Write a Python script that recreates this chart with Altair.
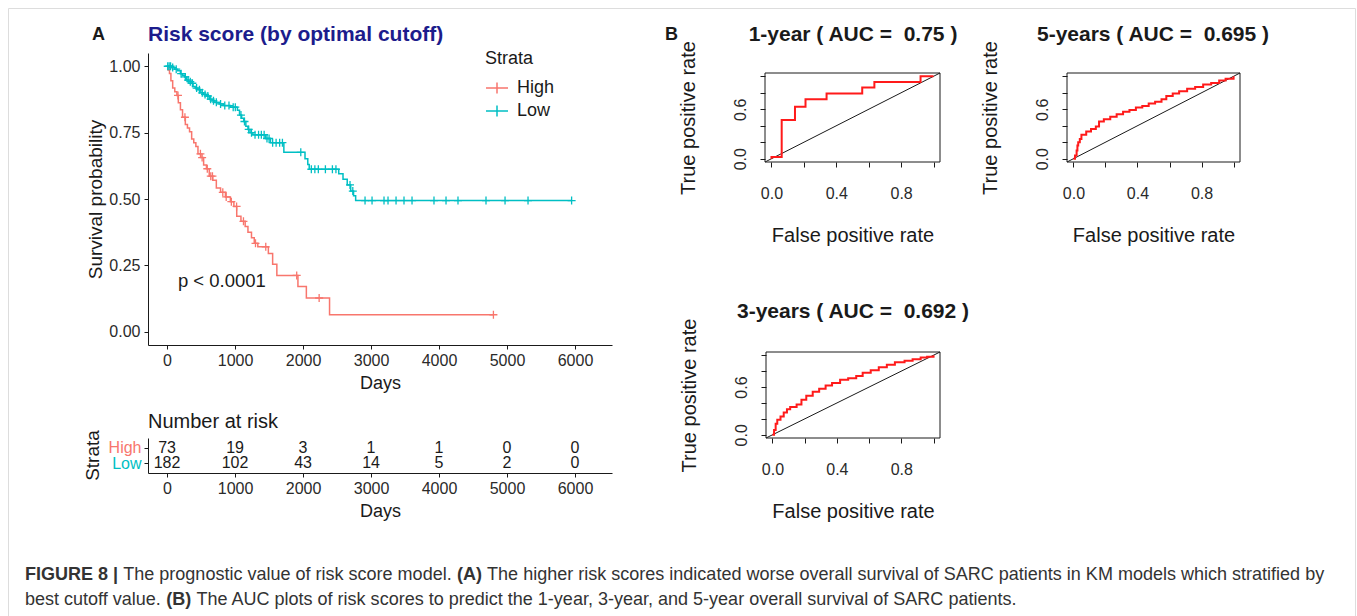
import altair as alt
import pandas as pd

FONT = "Liberation Sans"
RED = "#F8766D"
TEAL = "#00BFC4"
INK = "#1a1a1a"
H = 620  # plot-area height of the single layered canvas

# ---------------- Kaplan-Meier data (days, survival probability) ----------------
high_time = [0, 16, 36, 57, 83, 114, 145, 166, 197, 228, 269, 300, 331, 362, 393, 424, 455, 497, 538, 580,
             621, 673, 725, 787, 859, 932, 983, 1025, 1087, 1149, 1190, 1242, 1283, 1335, 1490, 1553, 1615,
             1925, 2049, 2390, 4800]
high_surv = [1.0, 0.986, 0.973, 0.945, 0.918, 0.904, 0.890, 0.863, 0.836, 0.808, 0.781, 0.767, 0.753, 0.726,
             0.712, 0.698, 0.670, 0.656, 0.628, 0.614, 0.586, 0.571, 0.541, 0.525, 0.508, 0.490, 0.472, 0.435,
             0.416, 0.396, 0.375, 0.354, 0.333, 0.320, 0.295, 0.254, 0.212, 0.170, 0.127, 0.064, 0.064]
high_censor = [161, 263, 491, 516, 592, 643, 668, 820, 870, 946, 1023, 1124, 1301, 1452, 1907, 2237, 4800]

low_time = [0, 62, 114, 155, 197, 228, 259, 290, 321, 352, 383, 414, 455, 497, 538, 580, 621, 662, 704, 766,
            828, 932, 1035, 1066, 1097, 1128, 1159, 1190, 1221, 1263, 1449, 1521, 1718, 2029, 2070, 2091,
            2525, 2588, 2650, 2701, 2743, 2774, 5950]
low_surv = [1.0, 0.995, 0.989, 0.983, 0.972, 0.966, 0.960, 0.948, 0.942, 0.936, 0.924, 0.918, 0.912, 0.900,
            0.894, 0.888, 0.876, 0.870, 0.864, 0.858, 0.852, 0.846, 0.834, 0.816, 0.804, 0.792, 0.774, 0.762,
            0.750, 0.742, 0.728, 0.712, 0.676, 0.652, 0.630, 0.612, 0.595, 0.574, 0.553, 0.530, 0.512, 0.494,
            0.494]
low_censor = [10, 31, 52, 83, 135, 207, 269, 311, 342, 373, 435, 476, 518, 559, 600, 642, 683, 725, 787, 849,
              911, 973, 1004, 1087, 1139, 1201, 1242, 1294, 1346, 1387, 1428, 1470, 1501, 1553, 1604, 1656,
              1697, 1967, 2122, 2174, 2225, 2329, 2432, 2484, 2691, 2732, 2912, 3015, 3191, 3250, 3368, 3485,
              3603, 3926, 4103, 4279, 4691, 4971, 5309, 5950]

# ---------------- Number at risk ----------------
risk_days = [0, 1000, 2000, 3000, 4000, 5000, 6000]
risk_high = [73, 19, 3, 1, 1, 0, 0]
risk_low = [182, 102, 43, 14, 5, 2, 0]

# ---------------- ROC curves (false positive rate, true positive rate) ----------------
roc1_fpr = [0, 0, 0.063, 0.145, 0.21, 0.34, 0.56, 0.635, 0.92, 1.0]
roc1_tpr = [0, 0.02, 0.47, 0.63, 0.72, 0.79, 0.865, 0.93, 1.0, 1.0]

roc5_fpr = [0, 0.01, 0.02, 0.025, 0.03, 0.04, 0.05, 0.08, 0.11, 0.14, 0.16, 0.19, 0.23, 0.27, 0.31, 0.35,
            0.39, 0.43, 0.47, 0.51, 0.55, 0.58, 0.62, 0.66, 0.71, 0.76, 0.81, 0.86, 0.91, 0.95, 1.0]
roc5_tpr = [0, 0.04, 0.10, 0.16, 0.20, 0.24, 0.29, 0.33, 0.36, 0.39, 0.45, 0.48, 0.51, 0.54, 0.57, 0.59,
            0.62, 0.64, 0.67, 0.69, 0.72, 0.76, 0.79, 0.82, 0.85, 0.87, 0.90, 0.92, 0.95, 0.97, 1.0]

roc3_fpr = [0, 0.01, 0.02, 0.03, 0.05, 0.07, 0.09, 0.11, 0.15, 0.18, 0.21, 0.25, 0.29, 0.33, 0.37, 0.42,
            0.47, 0.52, 0.56, 0.61, 0.66, 0.71, 0.76, 0.82, 0.87, 0.92, 0.96, 1.0]
roc3_tpr = [0, 0.06, 0.14, 0.19, 0.23, 0.28, 0.32, 0.35, 0.38, 0.44, 0.49, 0.54, 0.58, 0.62, 0.65, 0.69,
            0.71, 0.74, 0.78, 0.81, 0.85, 0.88, 0.91, 0.93, 0.95, 0.97, 0.98, 1.0]

roc_titles = ["1-year ( AUC =\u00a0 0.75 )", "5-years ( AUC =\u00a0 0.695 )", "3-years ( AUC =\u00a0 0.692 )"]

caption_line1 = [("FIGURE 8 |", True), (" The prognostic value of risk score model. ", False), ("(A)", True),
                 (" The higher risk scores indicated worse overall survival of SARC patients in KM models which stratified by", False)]
caption_line2 = [("best cutoff value. ", False), ("(B)", True),
                 (" The AUC plots of risk scores to predict the 1-year, 3-year, and 5-year overall survival of SARC patients.", False)]

# ======================= build =======================
def step_value(times, survs, t):
    s = survs[0]
    for ti, si in zip(times, survs):
        if ti <= t:
            s = si
    return s

km_df = pd.concat([
    pd.DataFrame({"time": high_time, "surv": high_surv, "strata": "High"}),
    pd.DataFrame({"time": low_time, "surv": low_surv, "strata": "Low"}),
])
cens_df = pd.concat([
    pd.DataFrame({"time": high_censor, "surv": [step_value(high_time, high_surv, t) for t in high_censor], "strata": "High"}),
    pd.DataFrame({"time": low_censor, "surv": [step_value(low_time, low_surv, t) for t in low_censor], "strata": "Low"}),
])

T_DOMAIN = [-280, 6544]
T_RANGE = [140, 604]

common_axis = dict(grid=False, labelFlush=False, labelOverlap=False, labelFont=FONT, titleFont=FONT,
                   titleFontWeight="normal", titleColor=INK, labelColor="#2a2a2a", tickColor=INK,
                   domainColor=INK, tickWidth=1, domainWidth=1)


def km_x(offset, title_y):
    return alt.X("time:Q", scale=alt.Scale(domain=T_DOMAIN, range=T_RANGE, nice=False, zero=False),
                 axis=alt.Axis(orient="bottom", offset=offset, values=risk_days, format="d",
                               title="Days", titleX=(T_RANGE[0] + T_RANGE[1]) / 2, titleY=title_y,
                               titleBaseline="middle", titleAlign="center", titleFontSize=18,
                               labelFontSize=16, tickSize=4, labelPadding=3, **common_axis))


km_y = alt.Y("surv:Q", scale=alt.Scale(domain=[-0.05, 1.05], range=[337, 45], nice=False, zero=False),
             axis=alt.Axis(orient="left", offset=-140, values=[0, 0.25, 0.5, 0.75, 1.0], format=".2f",
                           title="Survival probability", titleX=-53, titleY=191, titleAngle=270,
                           titleBaseline="middle", titleAlign="center", titleFontSize=19,
                           labelFontSize=16, tickSize=4, labelPadding=4, **common_axis))

color = alt.Color("strata:N", scale=alt.Scale(domain=["High", "Low"], range=[RED, TEAL]),
                  legend=alt.Legend(orient="none", legendX=477, legendY=42, title="Strata", padding=0,
                                    titleFont=FONT, labelFont=FONT, titleFontSize=18, labelFontSize=18,
                                    titleFontWeight="normal", titleColor=INK, labelColor=INK,
                                    titlePadding=8, rowPadding=2, labelOffset=8,
                                    symbolType="M-1,0H1M0,-0.5V0.5", symbolSize=484,
                                    symbolStrokeWidth=1.5, symbolFillColor="transparent"))

km_lines = alt.Chart(km_df).mark_line(interpolate="step-after", strokeWidth=1.5).encode(
    x=km_x(337 - H, 38), y=km_y, color=color, detail="strata:N")
km_points = alt.Chart(cens_df).mark_point(shape="M-1,0H1M0,-1V1", size=64, strokeWidth=1.3,
                                           filled=False, opacity=1).encode(
    x=km_x(337 - H, 38), y=km_y, color=color)
pval = alt.Chart(pd.DataFrame({"time": [160], "surv": [0.19], "t": ["p < 0.0001"]})).mark_text(
    align="left", baseline="middle", fontSize=18.5, font=FONT, color=INK).encode(
    x=km_x(337 - H, 38), y=km_y, text="t:N")
km = alt.layer(km_lines, km_points, pval)

# risk table
risk_df = pd.concat([
    pd.DataFrame({"time": risk_days, "strata": "High", "n": risk_high}),
    pd.DataFrame({"time": risk_days, "strata": "Low", "n": risk_low}),
])
risk_y = alt.Y("strata:N", scale=alt.Scale(type="point", domain=["High", "Low"], range=[430, 465], padding=0.6),
               axis=alt.Axis(orient="left", offset=-140, title="Strata", titleX=-56, titleY=447,
                             titleAngle=270, titleBaseline="middle", titleAlign="center", titleFontSize=19,
                             labelFontSize=16, tickSize=4, labelPadding=3,
                             grid=False, labelFont=FONT, titleFont=FONT, titleFontWeight="normal",
                             titleColor=INK, tickColor=INK, domainColor=INK,
                             labelColor={"condition": {"test": "datum.value === 'High'", "value": RED},
                                         "value": TEAL}))
risk = alt.Chart(risk_df).mark_text(fontSize=16, font=FONT, color=INK, baseline="middle").encode(
    x=km_x(465 - H, 38), y=risk_y, text="n:Q")


# ROC panels
def roc_panel(fpr, tpr, box_x, box_y):
    # box_x = [left, right], box_y = [bottom, top] in canvas pixels
    xscale = alt.Scale(domain=[-0.04, 1.04], range=box_x, nice=False, zero=False)
    yscale = alt.Scale(domain=[-0.04, 1.04], range=box_y, nice=False, zero=False)
    X = alt.X("fpr:Q", scale=xscale,
              axis=alt.Axis(orient="bottom", offset=box_y[0] - H, values=[0, 0.2, 0.4, 0.6, 0.8, 1.0],
                            labelExpr="(datum.value == 0 || datum.value == 0.4 || datum.value == 0.8) ? format(datum.value, '.1f') : ''",
                            domain=False, tickSize=5, labelPadding=26, labelBaseline="middle",
                            labelFontSize=16, title="False positive rate",
                            titleX=(box_x[0] + box_x[1]) / 2, titleY=73, titleBaseline="middle",
                            titleAlign="center", titleFontSize=20, **common_axis))
    Y = alt.Y("tpr:Q", scale=yscale,
              axis=alt.Axis(orient="left", offset=-box_x[0], values=[0, 0.2, 0.4, 0.6, 0.8, 1.0],
                            labelExpr="(datum.value == 0 || datum.value == 0.6) ? format(datum.value, '.1f') : ''",
                            domain=False, tickSize=5, labelPadding=20, labelAngle=270, labelAlign="center",
                            labelBaseline="middle", labelFontSize=16, title="True positive rate",
                            titleX=-77, titleY=(box_y[0] + box_y[1]) / 2, titleAngle=270,
                            titleBaseline="middle", titleAlign="center", titleFontSize=20, **common_axis))
    frame = alt.Chart(pd.DataFrame({"fpr": [-0.04], "tpr": [-0.04], "fpr2": [1.04], "tpr2": [1.04]})).mark_rect(
        fillOpacity=0, stroke=INK, strokeWidth=1).encode(x=X, y=Y, x2="fpr2:Q", y2="tpr2:Q")
    diag = alt.Chart(pd.DataFrame({"fpr": [-0.04, 1.04], "tpr": [-0.04, 1.04]})).mark_line(
        color=INK, strokeWidth=1).encode(x=X, y=Y)
    curve = alt.Chart(pd.DataFrame({"fpr": fpr, "tpr": tpr})).mark_line(
        interpolate="step-after", color="#ff1a1a", strokeWidth=2).encode(x=X, y=Y)
    return alt.layer(frame, diag, curve)


roc1 = roc_panel(roc1_fpr, roc1_tpr, [757, 932], [154, 65])
roc5 = roc_panel(roc5_fpr, roc5_tpr, [1059, 1232], [154, 65])
roc3 = roc_panel(roc3_fpr, roc3_tpr, [758, 932], [430, 344])


# text annotations (panel letters and titles)
def label(text, x, y, size, weight="normal", color=INK, align="left"):
    return alt.Chart(pd.DataFrame({"t": [text]})).mark_text(
        align=align, baseline="middle", fontSize=size, fontWeight=weight, color=color, font=FONT).encode(
        x=alt.value(x), y=alt.value(y), text="t:N")


notes = [
    label("A", 84, 27, 18, "bold"),
    label("B", 657, 27, 18, "bold"),
    label("Risk score (by optimal cutoff)", 140, 27, 21, "bold", "#1c1c8c"),
    label("Number at risk", 140, 414, 20),
    label(roc_titles[0], 845, 27, 21, "bold", align="center"),
    label(roc_titles[1], 1145, 27, 21, "bold", align="center"),
    label(roc_titles[2], 845, 304, 21, "bold", align="center"),
]

# caption with mixed weights: positions from Helvetica/Arial advance widths
REG = {' ': 278, '!': 278, '"': 355, "'": 191, '(': 333, ')': 333, ',': 278, '-': 333, '.': 278, '/': 278,
       ':': 278, ';': 278, '|': 260, '=': 584, '<': 584}
for c in "0123456789":
    REG[c] = 556
REG.update(dict(zip("ABCDEFGHIJKLMNOPQRSTUVWXYZ",
                    [667, 667, 722, 722, 667, 611, 778, 722, 278, 500, 667, 556, 833, 722, 778, 667, 778, 722,
                     667, 611, 722, 667, 944, 667, 667, 611])))
REG.update(dict(zip("abcdefghijklmnopqrstuvwxyz",
                    [556, 556, 500, 556, 556, 278, 556, 556, 222, 222, 500, 222, 833, 556, 556, 556, 556, 333,
                     500, 278, 556, 500, 722, 500, 500, 500])))
BOLD = {'F': 611, 'I': 278, 'G': 778, 'U': 722, 'R': 722, 'E': 667, ' ': 278, '8': 556, '|': 280, '(': 333,
        ')': 333, 'A': 722, 'B': 722}


def units(s, bold):
    tab = BOLD if bold else REG
    return sum(tab.get(ch, 556) for ch in s)


line1_units = sum(units(s, b) for s, b in caption_line1)
cap_size = 1300 * 1000 / line1_units
rows = []
for line, y in ((caption_line1, 567), (caption_line2, 592)):
    x = 17.0
    for s, b in line:
        lead = len(s) - len(s.lstrip(" "))
        rows.append({"t": s.strip(" "), "px": x + units(" " * lead, b) * cap_size / 1000, "py": y, "bold": b})
        x += units(s, b) * cap_size / 1000
cap_df = pd.DataFrame(rows)
cap_reg = alt.Chart(cap_df[~cap_df.bold]).mark_text(align="left", baseline="middle", fontSize=cap_size,
                                                     font=FONT, color="#333333").encode(
    x=alt.X("px:Q", scale=None, axis=None), y=alt.Y("py:Q", scale=None, axis=None), text="t:N")
cap_bold = alt.Chart(cap_df[cap_df.bold]).mark_text(align="left", baseline="middle", fontSize=cap_size,
                                                     font=FONT, fontWeight="bold", color="#333333").encode(
    x=alt.X("px:Q", scale=None, axis=None), y=alt.Y("py:Q", scale=None, axis=None), text="t:N")

chart = alt.layer(km, risk, roc1, roc5, roc3, *notes, cap_reg, cap_bold).resolve_scale(
    x="independent", y="independent"
).properties(
    width=1347, height=H,
    padding={"left": 8, "top": 8, "right": 2, "bottom": 0},
    autosize=alt.AutoSizeParams(type="none"),
).configure_view(stroke="#222222", strokeWidth=1).configure(font=FONT, background="white")

chart.save("out.html", embed_options={"renderer": "svg", "actions": False})
